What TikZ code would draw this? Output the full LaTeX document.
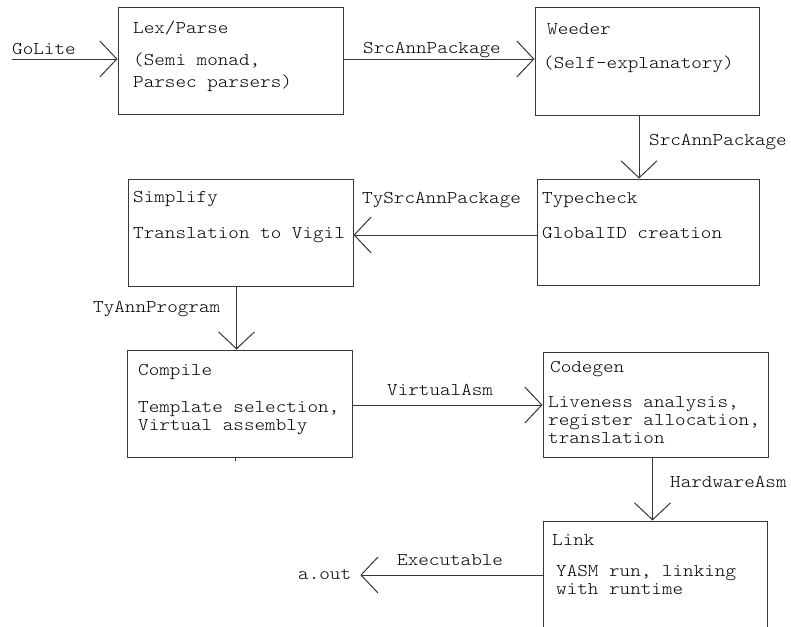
\documentclass[tikz,border=0pt]{standalone}
\usepackage{fontspec}
\newfontfamily\cour{lmmonolt10-regular.otf}[FakeStretch=1.12]
\usetikzlibrary{arrows.meta}
\definecolor{ink}{RGB}{55,55,55}
\begin{document}
\begin{tikzpicture}[x=1pt,y=-1pt,
 box/.style={draw=ink, line width=1pt, rectangle, inner sep=0pt},
 txt/.style={anchor=base west, inner sep=0pt, font=\cour\fontsize{18}{18}\selectfont, text=black},
 arr/.style={draw=ink, line width=1pt, -{Straight Barb[length=17pt,width=36pt,line width=1pt]}}]
\useasboundingbox (0,0) rectangle (791,626);
\clip (0,0) rectangle (791,626);
% boxes
\node[box, minimum width=225pt, minimum height=106pt] (lex) at (230.5,61) {};
\node[box, minimum width=224pt, minimum height=107pt] (weeder) at (647,61.5) {};
\node[box, minimum width=222pt, minimum height=106pt] (typecheck) at (648,232) {};
\node[box, minimum width=225pt, minimum height=107pt] (simplify) at (240.5,232.5) {};
\node[box, minimum width=225pt, minimum height=107pt] (compile) at (239.5,403.5) {};
\node[box, minimum width=225pt, minimum height=105pt] (codegen) at (655.5,404.5) {};
\node[box, minimum width=224pt, minimum height=108pt] (link) at (655,575) {};
% box texts
\node[txt] (t1) at (133,34) {Lex/Parse};
\node[txt] (t1a) at (133,66) {(Semi monad,};
\node[txt] (t1b) at (133,87) {Parsec parsers)};
\node[txt] (t2) at (547,35) {Weeder};
\node[txt] (t2a) at (543,68) {(Self-explanatory)};
\node[txt] (t3) at (542,203) {Typecheck};
\node[txt] (t3a) at (542,238) {GlobalID creation};
\node[txt] (t4) at (133,202) {Simplify};
\node[txt] (t4a) at (133,238) {Translation to Vigil};
\node[txt] (t5) at (138,375) {Compile};
\node[txt] (t5a) at (138,412) {Template selection,};
\node[txt] (t5b) at (138,430) {Virtual assembly};
\node[txt] (t6) at (550,372) {Codegen};
\node[txt] (t6a) at (548,407) {Liveness analysis,};
\node[txt] (t6b) at (548,425) {register allocation,};
\node[txt] (t6c) at (548,443) {translation};
\node[txt] (t7) at (552,545) {Link};
\node[txt] (t7a) at (556,576) {YASM run, linking};
\node[txt] (t7b) at (556,594) {with runtime};
% edge labels
\node[txt] (lgo) at (12,54) {GoLite};
\node[txt] (l1) at (363,53) {SrcAnnPackage};
\node[txt] (l2) at (649,145) {SrcAnnPackage};
\node[txt] (l3) at (362,203) {TySrcAnnPackage};
\node[txt] (l4) at (93,312) {TyAnnProgram};
\node[txt] (l5) at (387,395) {VirtualAsm};
\node[txt] (l6) at (670,487) {HardwareAsm};
\node[txt] (l7) at (397,565) {Executable};
\node[txt] (aout) at (298,579) {a.out};
% connectors
\coordinate (src) at (12,59);
\draw[arr] (src) -- (src -| lex.west);
\draw[arr] ([yshift=2pt]lex.east) -- ([yshift=2pt]lex.east -| weeder.west);
\draw[arr] ([xshift=-8pt]weeder.south) -- ([xshift=-8pt]weeder.south |- typecheck.north);
\draw[arr] ([yshift=-3pt]typecheck.west) -- ([yshift=-3pt]typecheck.west -| simplify.east);
\draw[arr] ([xshift=-4pt]simplify.south) -- ([xshift=-4pt]simplify.south |- compile.north);
\draw[arr] ([yshift=-1.5pt]compile.east) -- ([yshift=-1.5pt]compile.east -| codegen.west);
\draw[arr] ([xshift=-3pt]codegen.south) -- ([xshift=-3pt]codegen.south |- link.north);
\draw[arr] (link.west) -- ([xshift=9pt]aout.east |- link.west);
\draw[draw=ink, line width=1pt] ([xshift=-4.5pt]compile.south) -- ++(0,3);
\end{tikzpicture}
\end{document}
